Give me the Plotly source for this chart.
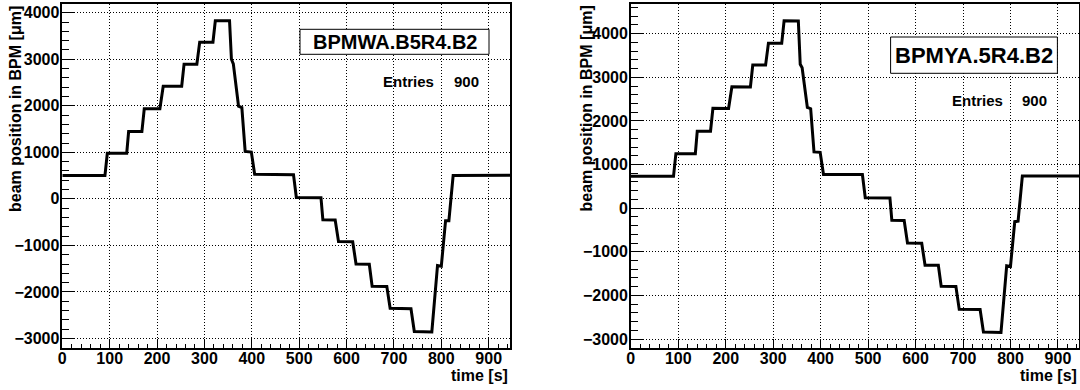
import plotly.graph_objects as go

W, H = 1080, 390

# ---------------- data ----------------
# corner points of the step scan, time in s
t_s = [0, 90, 95, 136, 140, 168, 173, 206, 213, 252, 257, 284, 290, 318, 323,
       353, 357, 361, 372, 379, 386, 399, 406, 488, 494, 546, 550, 576, 583,
       613, 620, 648, 654, 685, 692, 736, 743, 780, 792, 800, 809, 816, 825, 945]
# beam position in BPMWA.B5R4.B2 [um]
pos_wa = [500, 500, 980, 980, 1445, 1445, 1935, 1935, 2420, 2420, 2895, 2895,
          3365, 3365, 3825, 3825, 3000, 2900, 1990, 1960, 1020, 1005, 530, 520,
          30, 25, -450, -455, -915, -920, -1400, -1405, -1880, -1885, -2350,
          -2360, -2850, -2860, -1430, -1445, -470, -470, 500, 505]
# beam position in BPMYA.5R4.B2 [um]
pos_ya = [730, 730, 1250, 1250, 1765, 1765, 2290, 2285, 2785, 2780, 3280, 3280,
          3780, 3780, 4295, 4290, 3300, 3220, 2310, 2280, 1290, 1280, 770, 770,
          240, 235, -280, -285, -800, -805, -1310, -1310, -1790, -1795, -2320,
          -2325, -2840, -2850, -1320, -1335, -310, -300, 735, 740]

bpm_names = ["BPMWA.B5R4.B2", "BPMYA.5R4.B2"]
entries = [900, 900]
x_title = "time [s]"
y_title = "beam position in BPM [μm]"

FONT = "Liberation Sans, Arial, Helvetica, sans-serif"


def fx(px):
    return px / W


def fy(py):
    return 1 - py / H


fig = go.Figure()
fig.add_trace(go.Scatter(x=t_s, y=pos_wa, mode="lines",
                         line=dict(color="black", width=3),
                         xaxis="x", yaxis="y", showlegend=False))
fig.add_trace(go.Scatter(x=t_s, y=pos_ya, mode="lines",
                         line=dict(color="black", width=3),
                         xaxis="x2", yaxis="y2", showlegend=False))

tickfont = dict(family=FONT, size=16, color="black", weight="bold")
common = dict(showline=True, mirror=True, linecolor="black", linewidth=1.5,
              showgrid=True, gridcolor="black", griddash="1px,2px", gridwidth=1,
              ticks="inside", tickcolor="black", tickwidth=1, zeroline=False,
              tickfont=tickfont, tickmode="linear", tick0=0,
              layer="above traces", automargin=False)

xcommon = dict(common, range=[0, 945], dtick=100, ticklen=10,
               ticklabelstandoff=-5,
               minor=dict(dtick=20, ticks="inside", ticklen=5,
                          tickcolor="black", showgrid=False))
ycommon = dict(common, dtick=1000, ticklen=13, ticklabelstandoff=-2,
               minor=dict(dtick=200, ticks="inside", ticklen=7,
                          tickcolor="black", showgrid=False))

ydom = [fy(348.3), fy(4)]

fig.update_layout(
    width=W, height=H,
    margin=dict(l=0, r=0, t=0, b=0),
    paper_bgcolor="white", plot_bgcolor="white",
    xaxis=dict(xcommon, domain=[fx(62.3), fx(510)], anchor="y"),
    yaxis=dict(ycommon, domain=ydom, range=[-3211, 4187], anchor="x"),
    xaxis2=dict(xcommon, domain=[fx(630.8), fx(1079.3)], anchor="y2"),
    yaxis2=dict(ycommon, domain=ydom, range=[-3213, 4681], anchor="x2"),
)

bold = lambda s: dict(family=FONT, size=s, color="black", weight="bold")

# panel geometry in pixels: (frame right, y-title x, title box, title font, entries row)
panels = [
    dict(right=510, ytx=16, box=(300, 29.3, 489, 54.3), tfs=20,
         ent_l=380.7, ent_r=481, ent_y=81.7),
    dict(right=1079.3, ytx=586.5, box=(890.6, 37, 1057.4, 73.3), tfs=22,
         ent_l=949.8, ent_r=1048.8, ent_y=101),
]

for i, p in enumerate(panels):
    x0, y0, x1, y1 = p["box"]
    fig.add_shape(type="rect", xref="paper", yref="paper",
                  x0=fx(x0), x1=fx(x1), y0=fy(y1), y1=fy(y0),
                  line=dict(color="black", width=1), fillcolor="white",
                  layer="above")
    fig.add_annotation(xref="paper", yref="paper", x=fx((x0 + x1) / 2),
                       y=fy((y0 + y1) / 2), text=bpm_names[i], showarrow=False,
                       xanchor="center", yanchor="middle", font=bold(p["tfs"]))
    fig.add_annotation(xref="paper", yref="paper", x=fx(p["ent_l"]),
                       y=fy(p["ent_y"]), text="Entries", showarrow=False,
                       xanchor="left", yanchor="middle", font=bold(15))
    fig.add_annotation(xref="paper", yref="paper", x=fx(p["ent_r"]),
                       y=fy(p["ent_y"]), text=str(entries[i]), showarrow=False,
                       xanchor="right", yanchor="middle", font=bold(15))
    fig.add_annotation(xref="paper", yref="paper", x=fx(p["right"]),
                       y=fy(375), text=x_title, showarrow=False,
                       xanchor="right", yanchor="middle", font=bold(16))
    fig.add_annotation(xref="paper", yref="paper", x=fx(p["ytx"]),
                       y=fy(4), text=y_title, showarrow=False, textangle=-90,
                       xanchor="center", yanchor="top", font=bold(16))

fig.write_html(
    "out.html",
    config={"displayModeBar": False},
    post_script="document.documentElement.style.margin='0';"
                "document.body.style.margin='0';"
                "document.body.style.overflow='hidden';",
)
